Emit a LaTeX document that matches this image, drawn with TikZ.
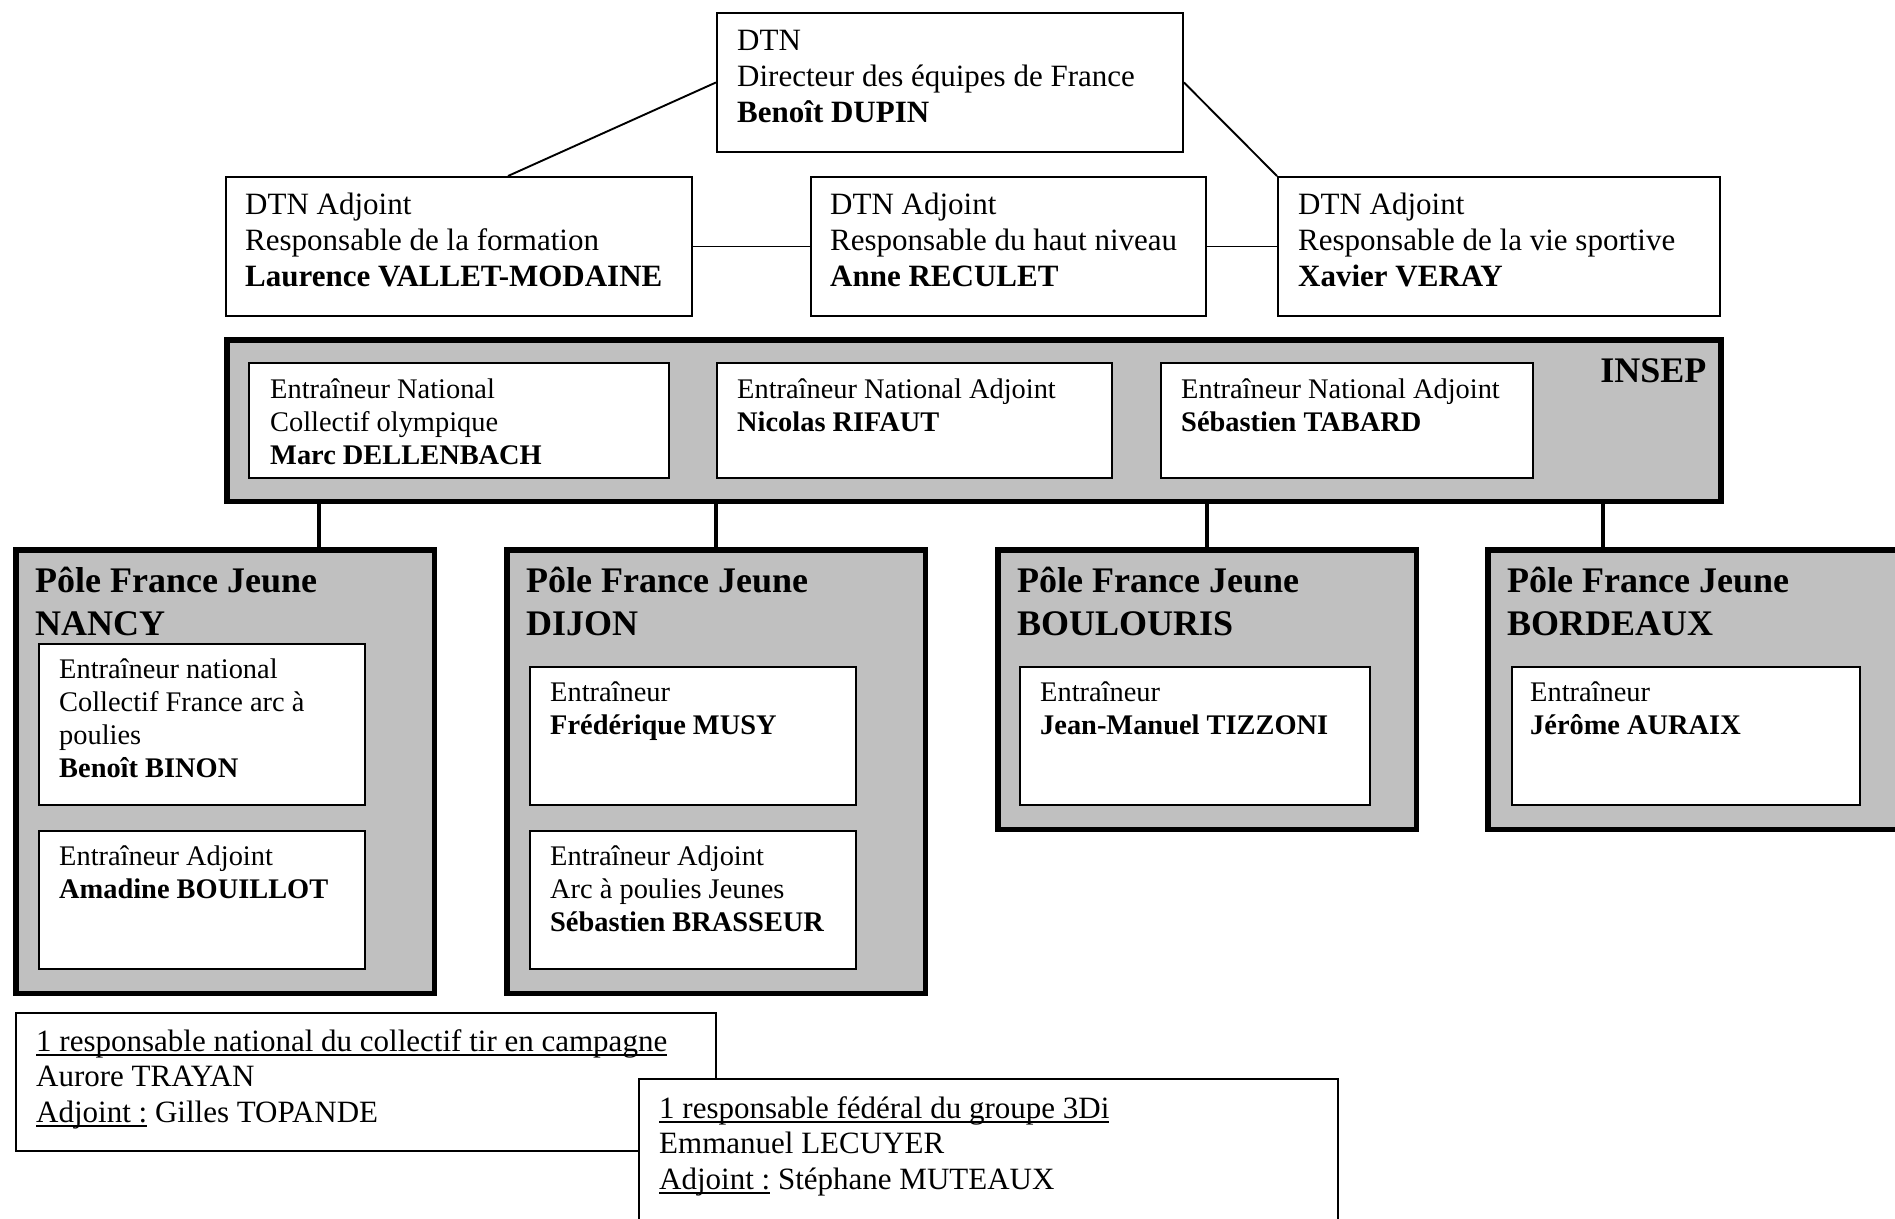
\documentclass[tikz,border=0pt]{standalone}
\usepackage{fontspec}
\setmainfont{Liberation Serif}
\definecolor{insepgray}{RGB}{192,192,192}
\newsavebox\ulbox
\newcommand\ulin[1]{\sbox\ulbox{#1}\rlap{\rule[-4.5pt]{\wd\ulbox}{1.5pt}}\usebox\ulbox}

\begin{document}
\begin{tikzpicture}[x=1pt,y=-1pt,
  card/.style={draw, line width=1.9pt, fill=white, anchor=north west, inner sep=0pt},
  polebox/.style={draw, line width=5.5pt, fill=insepgray, anchor=north west, inner sep=0pt},
  txt/.style={anchor=north west, align=left, inner sep=0pt, font=\fontsize{31}{36}\selectfont},
  small/.style={anchor=north west, align=left, inner sep=0pt, font=\fontsize{28.4}{33}\selectfont},
  note/.style={anchor=north west, align=left, inner sep=0pt, font=\fontsize{31}{35.5}\selectfont},
  title/.style={anchor=north west, align=left, inner sep=0pt, font=\fontsize{36}{43}\selectfont\bfseries},
  trunk/.style={line width=3.5pt},
  link/.style={line width=1.9pt}]
\useasboundingbox (0,0) rectangle (1895,1218);

% direction
\node[card, minimum width=466, minimum height=139] (dtn) at (716,12) {};
\node[txt] (dtntxt) at ([shift={(21,13)}]dtn.north west) {\strut DTN\\Directeur des équipes de France\\\textbf{Benoît DUPIN}};

\node[card, minimum width=466, minimum height=139] (formation) at (225,176) {};
\node[txt] (formationtxt) at ([shift={(20,13)}]formation.north west) {\strut DTN Adjoint\\Responsable de la formation\\\textbf{Laurence VALLET-MODAINE}};
\node[card, minimum width=395, minimum height=139] (haut) at (810,176) {};
\node[txt] (hauttxt) at ([shift={(20,13)}]haut.north west) {\strut DTN Adjoint\\Responsable du haut niveau\\\textbf{Anne RECULET}};
\node[card, minimum width=442, minimum height=139] (vie) at (1277,176) {};
\node[txt] (vietxt) at ([shift={(21,13)}]vie.north west) {\strut DTN Adjoint\\Responsable de la vie sportive\\\textbf{Xavier VERAY}};

\draw[link] (dtn.west) -- ([xshift=283]formation.north west);
\draw[link] (dtn.east) -- (vie.north west);
\draw[link] (formation.east) -- (haut.west);
\draw[link] (haut.east) -- (vie.west);

% INSEP
\node[polebox, minimum width=1494, minimum height=161.5] (insep) at (224,337) {};
\node[anchor=base east, inner sep=0pt, font=\fontsize{36}{43}\selectfont\bfseries] (inseplabel) at ([shift={(-17,45)}]insep.north east) {INSEP};
\node[card, minimum width=420, minimum height=115] (olymp) at (248,362) {};
\node[small] (olymptxt) at ([shift={(22,13)}]olymp.north west) {\strut Entraîneur National\\Collectif olympique\\\textbf{Marc DELLENBACH}};
\node[card, minimum width=395, minimum height=115] (rifaut) at (716,362) {};
\node[small] (rifauttxt) at ([shift={(21,13)}]rifaut.north west) {\strut Entraîneur National Adjoint\\\textbf{Nicolas RIFAUT}};
\node[card, minimum width=372, minimum height=115] (tabard) at (1160,362) {};
\node[small] (tabardtxt) at ([shift={(21,13)}]tabard.north west) {\strut Entraîneur National Adjoint\\\textbf{Sébastien TABARD}};

% poles
\foreach \name/\x/\h/\city/\tx in {nancy/13/443.5/NANCY/319, dijon/504/443.5/DIJON/716, boulouris/995/279.5/BOULOURIS/1207, bordeaux/1485/279.5/BORDEAUX/1603}
{
\node[polebox, minimum width=418.5, minimum height=\h] (\name) at (\x,547) {};
\node[title] (\name title) at ([shift={(22,15)}]\name.north west) {\strut Pôle France Jeune\\\city};
\draw[trunk] (insep.south -| \tx,0) -- (\name.north -| \tx,0);
}

\node[card, minimum width=326, minimum height=161] (binon) at (38,643) {};
\node[small] (binontxt) at ([shift={(21,12)}]binon.north west) {\strut Entraîneur national\\Collectif France arc à\\poulies\\\textbf{Benoît BINON}};
\node[card, minimum width=326, minimum height=138] (bouillot) at (38,830) {};
\node[small] (bouillottxt) at ([shift={(21,12)}]bouillot.north west) {\strut Entraîneur Adjoint\\\textbf{Amadine BOUILLOT}};

\node[card, minimum width=326, minimum height=138] (musy) at (529,666) {};
\node[small] (musytxt) at ([shift={(21,12)}]musy.north west) {\strut Entraîneur\\\textbf{Frédérique MUSY}};
\node[card, minimum width=326, minimum height=138] (brasseur) at (529,830) {};
\node[small] (brasseurtxt) at ([shift={(21,12)}]brasseur.north west) {\strut Entraîneur Adjoint\\Arc à poulies Jeunes\\\textbf{Sébastien BRASSEUR}};

\node[card, minimum width=350, minimum height=138] (tizzoni) at (1019,666) {};
\node[small] (tizzonitxt) at ([shift={(21,12)}]tizzoni.north west) {\strut Entraîneur\\\textbf{Jean-Manuel TIZZONI}};
\node[card, minimum width=348, minimum height=138] (auraix) at (1511,666) {};
\node[small] (auraixtxt) at ([shift={(19,12)}]auraix.north west) {\strut Entraîneur\\\textbf{Jérôme AURAIX}};

% notes
\node[card, minimum width=700, minimum height=138] (campagne) at (15,1012) {};
\node[note] (campagnetxt) at ([shift={(21,14)}]campagne.north west) {\strut\ulin{1 responsable national du collectif tir en campagne}\\Aurore TRAYAN\\\ulin{Adjoint :} Gilles TOPANDE};
\node[card, minimum width=699, minimum height=155] (troisdi) at (638,1078) {};
\node[note] (troisditxt) at ([shift={(21,15)}]troisdi.north west) {\strut\ulin{1 responsable fédéral du groupe 3Di}\\Emmanuel LECUYER\\\ulin{Adjoint :} Stéphane MUTEAUX};

\end{tikzpicture}
\end{document}
